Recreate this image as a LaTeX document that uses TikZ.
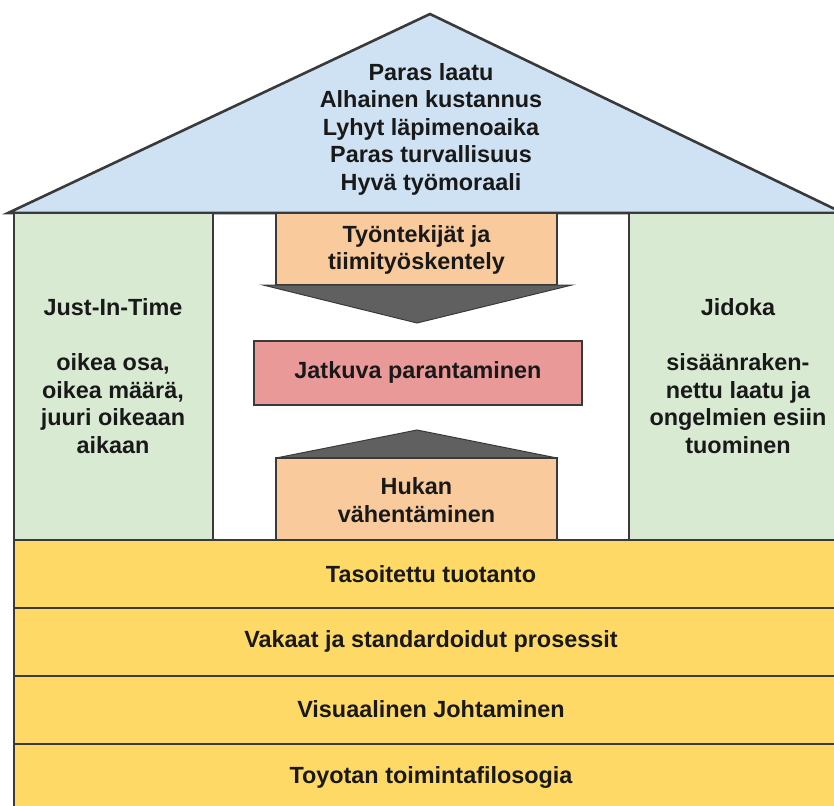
\documentclass[tikz,border=0pt]{standalone}
\usepackage{fontspec}
\setmainfont{Liberation Sans}
\definecolor{roofblue}{HTML}{CFE2F3}
\definecolor{pillargreen}{HTML}{D9EAD3}
\definecolor{peach}{HTML}{F9CB9C}
\definecolor{rose}{HTML}{EA9999}
\definecolor{gold}{HTML}{FFD966}
\definecolor{edge}{HTML}{3A3A3A}
\definecolor{arrowgray}{HTML}{606060}
\begin{document}
\begin{tikzpicture}[x=1pt,y=-1pt,
  outline/.style={draw=edge,line width=2.6pt,line join=miter},
  label/.style={font=\fontsize{23.4}{27.5}\selectfont\bfseries,text=black!90,align=center,inner sep=0pt},
  block/.style={outline,label,anchor=north west,minimum width=#1}
]
\useasboundingbox (0,0) rectangle (834,805);
\clip (0,0) rectangle (834,805);

% roof
\draw[outline,fill=roofblue] (8,213) -- (430,14) -- (843,213) -- cycle;
\node[label] (goals) at (431,129) {Paras laatu\\Alhainen kustannus\\Lyhyt läpimenoaika\\Paras turvallisuus\\Hyvä työmoraali};

% pillars
\path[outline,fill=pillargreen] (14,213) rectangle (213,540);
\path[outline,fill=pillargreen] (629,213) rectangle (850,540);
\node[label] (jit) at (113,376) {Just-In-Time\\[27.5pt]oikea osa,\\oikea määrä,\\juuri oikeaan\\aikaan};
\node[label] (jidoka) at (738,376) {Jidoka\\[27.5pt]sisäänraken-\\nettu laatu ja\\ongelmien esiin\\tuominen};

% centre column
\path[outline,fill=peach] (276,213) rectangle (557,285);
\node[label] (people) at (416.5,250) {Työntekijät ja\\tiimityöskentely};
\fill[arrowgray,draw=edge,line width=1pt] (263,285) -- (572,285) -- (417,323) -- cycle;

\path[outline,fill=rose] (254,341) rectangle (582,405);
\node[label] (kaizen) at (418,372) {Jatkuva parantaminen};

\fill[arrowgray,draw=edge,line width=1pt] (276,458) -- (417,430) -- (557,458) -- cycle;
\path[outline,fill=peach] (276,458) rectangle (557,545);
\node[label] (waste) at (416.5,500) {Hukan\\vähentäminen};

% foundation
\path[outline,fill=gold] (14,540) rectangle (850,608);
\path[outline,fill=gold] (14,608) rectangle (850,676);
\path[outline,fill=gold] (14,676) rectangle (850,744);
\path[outline,fill=gold] (14,744) rectangle (850,820);
\node[label] (heijunka) at (431,574) {Tasoitettu tuotanto};
\node[label] (standard) at (431,641) {Vakaat ja standardoidut prosessit};
\node[label] (visual) at (431,709) {Visuaalinen Johtaminen};
\node[label] (philosophy) at (431,777) {Toyotan toimintafilosogia};
\end{tikzpicture}
\end{document}
